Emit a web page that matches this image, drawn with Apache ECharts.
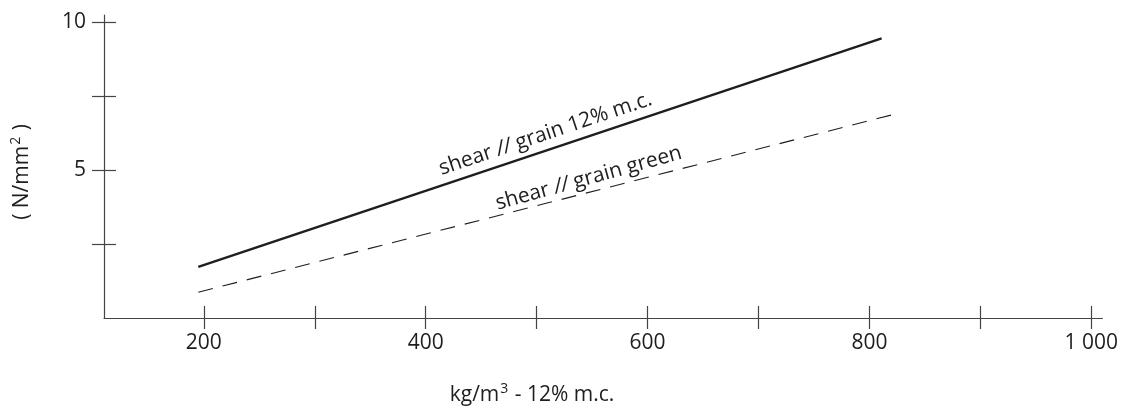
<!DOCTYPE html>
<html>
<head>
<meta charset="utf-8">
<script src="https://cdn.jsdelivr.net/npm/echarts@6/dist/echarts.min.js"></script>
<style>html,body{margin:0;padding:0;background:#fff}#c{width:1121px;height:414px}</style>
</head>
<body>
<div id="c"></div>
<script>
// Data
const xTickValues = [200, 300, 400, 500, 600, 700, 800, 900, 1000];
const xLabelValues = [200, 400, 600, 800, 1000];
const yTickValues = [2.5, 5, 7.5, 10];
const yLabelValues = [5, 10];
const solidX = [195, 811];
const solidY = [1.73, 9.45];
const dashedX = [195, 824];
const dashedY = [0.87, 6.90];
const solidName = 'shear // grain 12% m.c.';
const dashedName = 'shear // grain green';
const solidLabelAt = [508, 6.22];
const dashedLabelAt = [547, 4.72];

const FONT = 'Open Sans';
const FS = 21;
const INK = '#1e1e1e';
const AX = '#444';

function pairs(xs, ys) { return xs.map((x, i) => [x, ys[i]]); }
function fmtX(v) { return v === 1000 ? '1 000' : String(v); }
function richName(name) {
  return name.replace('//', '{i|//}');
}

const commonX = { type: 'value', min: 110, max: 1010, splitLine: { show: false } };
const commonY = { type: 'value', min: 0, max: 10.24, splitLine: { show: false } };

const chart = echarts.init(document.getElementById('c'), null, { renderer: 'canvas' });
chart.setOption({
  animation: false,
  backgroundColor: '#fff',
  grid: { left: 104, right: 14, top: 15, bottom: 96, containLabel: false },
  xAxis: [
    Object.assign({}, commonX, {
      position: 'bottom',
      axisLine: { show: true, onZero: false, lineStyle: { color: AX, width: 1.2 } },
      axisTick: { show: true, inside: false, length: 11, customValues: xTickValues, lineStyle: { color: AX, width: 1.2 } },
      axisLabel: { show: true, customValues: xLabelValues, formatter: fmtX, margin: 15, color: INK, fontFamily: FONT, fontSize: FS }
    }),
    Object.assign({}, commonX, {
      position: 'bottom',
      axisLine: { show: false, onZero: false },
      axisTick: { show: true, inside: true, length: 12, customValues: xTickValues, lineStyle: { color: AX, width: 1.2 } },
      axisLabel: { show: false }
    })
  ],
  yAxis: [
    Object.assign({}, commonY, {
      position: 'left',
      axisLine: { show: true, onZero: false, lineStyle: { color: AX, width: 1.2 } },
      axisTick: { show: true, inside: false, length: 12, customValues: yTickValues, lineStyle: { color: AX, width: 1.2 } },
      axisLabel: { show: true, customValues: yLabelValues, margin: 18, color: INK, fontFamily: FONT, fontSize: FS }
    }),
    Object.assign({}, commonY, {
      position: 'left',
      axisLine: { show: false, onZero: false },
      axisTick: { show: true, inside: true, length: 12, customValues: yTickValues, lineStyle: { color: AX, width: 1.2 } },
      axisLabel: { show: false }
    })
  ],
  graphic: [
    {
      type: 'text', x: 22, y: 172, rotation: Math.PI / 2,
      style: {
        text: '( N/mm{s|2} )', fill: INK, font: FS + 'px "Open Sans"',
        align: 'center', verticalAlign: 'middle',
        rich: { s: { fontSize: 14, padding: [0, 1, 12, 1], fill: INK, fontFamily: FONT } }
      }
    },
    {
      type: 'text', x: 532, y: 395,
      style: {
        text: 'kg/m{s|3} - 12% m.c.', fill: INK, font: FS + 'px "Open Sans"',
        align: 'center', verticalAlign: 'middle',
        rich: { s: { fontSize: 14, padding: [0, 1, 12, 1], fill: INK, fontFamily: FONT } }
      }
    }
  ],
  series: [
    {
      type: 'line', name: solidName, xAxisIndex: 0, yAxisIndex: 0,
      data: pairs(solidX, solidY), symbol: 'none',
      lineStyle: { color: INK, width: 2.4 },
      markPoint: {
        symbol: 'circle', symbolSize: 0, silent: true,
        data: [{ coord: solidLabelAt }],
        label: { show: true, position: 'inside', rotate: 18.5, formatter: richName(solidName), color: INK, fontFamily: FONT, fontSize: FS,
          rich: { i: { fontStyle: 'italic', fontFamily: FONT, fontSize: FS, color: INK } } }
      }
    },
    {
      type: 'line', name: dashedName, xAxisIndex: 0, yAxisIndex: 0,
      data: pairs(dashedX, dashedY), symbol: 'none',
      lineStyle: { color: INK, width: 1.1, type: [15, 10] },
      markPoint: {
        symbol: 'circle', symbolSize: 0, silent: true,
        data: [{ coord: dashedLabelAt }],
        label: { show: true, position: 'inside', rotate: 15.5, formatter: richName(dashedName), color: INK, fontFamily: FONT, fontSize: FS,
          rich: { i: { fontStyle: 'italic', fontFamily: FONT, fontSize: FS, color: INK } } }
      }
    }
  ]
});
</script>
</body>
</html>
